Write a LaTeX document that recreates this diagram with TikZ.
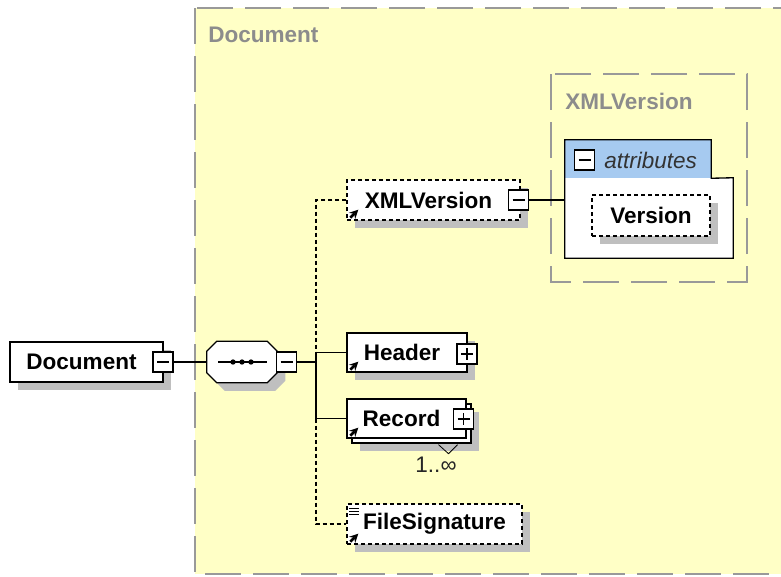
\documentclass[tikz,border=0pt]{standalone}
\usepackage{fontspec}
\setmainfont{Liberation Sans}
\usetikzlibrary{shapes.geometric, arrows, shadows}
\definecolor{docyellow}{RGB}{255,255,198}
\definecolor{attrblue}{RGB}{166,202,240}
\tikzstyle{region} = [draw=black!40, line width=1.5pt, dash pattern=on 27pt off 9pt]
\tikzstyle{heading} = [anchor=west, inner sep=0pt, text=black!45, font=\bfseries]
\tikzstyle{box} = [rectangle, draw, line width=1pt, fill=white, minimum height=30pt, inner sep=0pt, text centered, font=\bfseries]
\tikzstyle{element} = [box, general shadow={fill=black!25, shadow xshift=6pt, shadow yshift=-6pt}]
\tikzstyle{optional} = [element, dash pattern=on 3pt off 2.25pt]
\tikzstyle{repeated} = [box, general shadow={fill=black!25, shadow xshift=9.75pt, shadow yshift=-9.75pt}, copy shadow={shadow xshift=3.75pt, shadow yshift=-3.75pt}]
\tikzstyle{sequence} = [rectangle, minimum width=52.5pt, minimum height=30.75pt, inner sep=0pt]
\tikzstyle{octagon} = [draw, line width=1pt, fill=white, general shadow={fill=black!25, shadow xshift=6pt, shadow yshift=-6pt}]
\tikzstyle{toggled} = [execute at begin node=\hspace*{-7.5pt}]
\tikzstyle{collapse} = [rectangle, draw, line width=1pt, fill=white, minimum size=15pt, inner sep=0pt, path picture={\draw [line width=1pt] ([xshift=3pt]path picture bounding box.west) -- ([xshift=-3pt]path picture bounding box.east);}]
\tikzstyle{expand} = [collapse, path picture={\draw [line width=1pt] ([xshift=3pt]path picture bounding box.west) -- ([xshift=-3pt]path picture bounding box.east) ([yshift=-3pt]path picture bounding box.north) -- ([yshift=3pt]path picture bounding box.south);}]
\tikzstyle{link} = [line width=1pt]
\tikzstyle{optlink} = [line width=1pt, dash pattern=on 3pt off 2.25pt]
\tikzstyle{refarrow} = [line width=1.9pt,->,>=stealth]

\begin{document}
\fontsize{16.9}{20}\selectfont
\begin{tikzpicture}[x=0.75pt, y=-0.75pt]
            \useasboundingbox (0,0) rectangle (781,576);
            \clip (0,0) rectangle (781,576);
            \draw [region, fill=docyellow] (195,8) rectangle (800,574);
            \node [heading] at (208,35) (doclabel) {Document};
            \draw [region] (551,74) rectangle (747,282);
            \node [heading] at (565,101) (xmllabel) {XMLVersion};

            \node [element, toggled, minimum width=114.75pt] at (86.5,362) (root) {Document};
            \node [collapse] at (163,362) (rootTog) {};
            \node [sequence] at (242,362) (seq) {};
            \draw [octagon] ([xshift=7.5pt]seq.north west) -- ([xshift=-7.5pt]seq.north east) -- ([yshift=-7.5pt]seq.north east) -- ([yshift=7.5pt]seq.south east) -- ([xshift=-7.5pt]seq.south east) -- ([xshift=7.5pt]seq.south west) -- ([yshift=7.5pt]seq.south west) -- ([yshift=-7.5pt]seq.north west) -- cycle;
            \node [collapse] at (286.5,362) (seqTog) {};
            \coordinate (bus) at (316,362);

            \node [optional, toggled, minimum width=129.75pt] at (433.5,200) (xmlver) {XMLVersion};
            \node [collapse] at (518.5,200) (xmlverTog) {};
            \node [rectangle, fill=white, minimum width=126pt, minimum height=60pt] at (649,218) (attrbody) {};
            \node [rectangle, fill=attrblue, minimum width=109.5pt, minimum height=28.5pt] at (638,159) (attrs) {};
            \node [collapse] at (584.5,160) (attrsTog) {};
            \node [anchor=west, inner sep=0pt, text=black!80, font=\itshape] at (604,160) (attrlabel) {attributes};
            \node [optional, minimum width=88.5pt, minimum height=30.75pt] at (651,215.5) (version) {Version};

            \node [element, toggled, minimum width=90pt, minimum height=29.25pt] at (407,352.5) (header) {Header};
            \node [expand] at (467,354) (headerTog) {};
            \node [repeated, toggled, minimum width=89.25pt, minimum height=29.25pt] at (406.5,418.5) (record) {Record};
            \node [expand] at (463.5,419) (recordTog) {};
            \node [inner sep=0pt, text=black!85] at (436,465) (recordCount) {1..∞};
            \node [optional, minimum width=131.25pt] at (434.5,524) (filesig) {FileSignature};

            \draw [line width=1pt] (attrs.north west) -- (attrs.north east) -- (attrs.south east) -- (attrbody.north east) -- (attrbody.south east) -- (attrbody.south west) -- cycle;
            \draw [semithick] ([shift={(32,6)}]record.south) -- ([shift={(42,15)}]record.south) -- ([shift={(51,6)}]record.south);

            \draw [link] (rootTog) -- (seq);
            \draw [link] (seqTog) -- (bus);
            \draw [optlink] (xmlver.west) -| (bus |- header.west);
            \draw [link] (header.west) -| (bus) |- (record.west);
            \draw [optlink] (bus |- record.west) |- (filesig.west);
            \draw [link] (xmlverTog) -- (xmlverTog -| attrbody.west);

            \draw [line width=1pt] ([shift={(-24,0)}]seq.center) -- ([shift={(25,0)}]seq.center);
            \foreach \dx in {-9,0,9}
                \fill ([shift={(\dx,0)}]seq.center) circle (2pt);
            \foreach \n in {xmlver,header,record,filesig}
                \draw [refarrow] ([shift={(4,-3)}]\n.south west) -- ([shift={(12,-11)}]\n.south west);
            \foreach \dy in {5,8,11}
                \draw [semithick] ([shift={(3,\dy)}]filesig.north west) -- ([shift={(13,\dy)}]filesig.north west);
\end{tikzpicture}
\end{document}
